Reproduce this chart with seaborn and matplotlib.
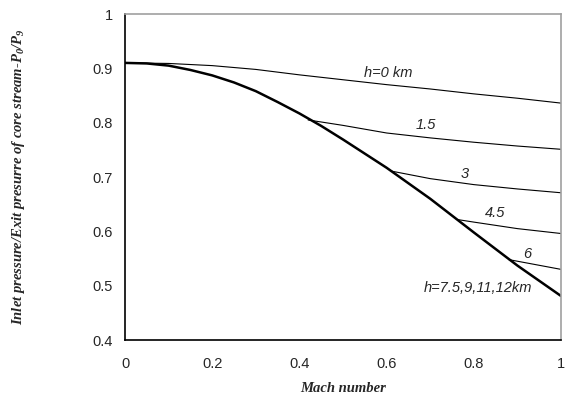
import matplotlib
matplotlib.use("Agg")
import matplotlib.pyplot as plt
import seaborn as sns
import pandas as pd

# Data
mach_thick = [0.0, 0.05, 0.1, 0.15, 0.2, 0.25, 0.3, 0.35, 0.4, 0.45, 0.5, 0.6, 0.7, 0.8, 0.9, 1.0]
p_thick = [0.910, 0.909, 0.905, 0.897, 0.887, 0.874, 0.858, 0.838, 0.817, 0.794, 0.769,
           0.717, 0.660, 0.598, 0.537, 0.481]

mach_h0 = [0.0, 0.1, 0.2, 0.3, 0.4, 0.5, 0.6, 0.7, 0.8, 0.9, 1.0]
p_h0 = [0.910, 0.909, 0.905, 0.898, 0.888, 0.879, 0.870, 0.862, 0.853, 0.845, 0.836]

mach_h15 = [0.42, 0.5, 0.6, 0.7, 0.8, 0.9, 1.0]
p_h15 = [0.805, 0.795, 0.781, 0.772, 0.764, 0.757, 0.751]

mach_h3 = [0.61, 0.7, 0.8, 0.9, 1.0]
p_h3 = [0.711, 0.697, 0.686, 0.678, 0.671]

mach_h45 = [0.76, 0.8, 0.9, 1.0]
p_h45 = [0.622, 0.617, 0.605, 0.596]

mach_h6 = [0.88, 0.9, 1.0]
p_h6 = [0.548, 0.545, 0.530]

labels = ["h=0 km", "1.5", "3", "4.5", "6", "h=7.5,9,11,12km"]
label_pos_x = [0.603, 0.69, 0.78, 0.849, 0.922, 0.81]
label_pos_y = [0.891, 0.796, 0.706, 0.634, 0.558, 0.496]

sns.set_style("white")
plt.rcParams['font.family'] = ['Liberation Sans', 'DejaVu Sans']
plt.rcParams['mathtext.fontset'] = 'custom'
plt.rcParams['mathtext.rm'] = 'Liberation Serif:italic:bold'
plt.rcParams['mathtext.it'] = 'Liberation Serif:italic:bold'
plt.rcParams['mathtext.bf'] = 'Liberation Serif:italic:bold'

fig = plt.figure(figsize=(5.69, 3.98), dpi=100)
ax = fig.add_axes([125/569, 58/398, 436/569, 326/398])

thin = [(mach_h0, p_h0), (mach_h15, p_h15), (mach_h3, p_h3), (mach_h45, p_h45), (mach_h6, p_h6)]
for mx, py in thin:
    df = pd.DataFrame({"Mach": mx, "P": py})
    sns.lineplot(data=df, x="Mach", y="P", ax=ax, color="black", linewidth=0.8, legend=False)

df_t = pd.DataFrame({"Mach": mach_thick, "P": p_thick})
sns.lineplot(data=df_t, x="Mach", y="P", ax=ax, color="black", linewidth=1.8, legend=False)

for t, x, y in zip(labels, label_pos_x, label_pos_y):
    ax.text(x, y, t, ha="center", va="center", fontsize=10.5, style="italic")

ax.set_xlim(0, 1)
ax.set_ylim(0.4, 1.0)
ax.set_xticks([0, 0.2, 0.4, 0.6, 0.8, 1])
ax.set_xticklabels(["0", "0.2", "0.4", "0.6", "0.8", "1"])
ax.set_yticks([0.4, 0.5, 0.6, 0.7, 0.8, 0.9, 1.0])
ax.set_yticklabels(["0.4", "0.5", "0.6", "0.7", "0.8", "0.9", "1"])
ax.tick_params(axis="both", direction="out", length=4, width=1, labelsize=10.5, color="black", pad=5)
ax.tick_params(axis="x", pad=8)

for s in ["left", "bottom"]:
    ax.spines[s].set_color("black")
    ax.spines[s].set_linewidth(1.2)
for s in ["top", "right"]:
    ax.spines[s].set_color("#a0a0a0")
    ax.spines[s].set_linewidth(1.2)

ax.set_xlabel("Mach number", family=["Liberation Serif", "DejaVu Serif"], style="italic",
              weight="bold", fontsize=10.5)
ax.set_ylabel("Inlet pressure/Exit presurre of core stream-P$_{0}$/P$_{9}$",
              family=["Liberation Serif", "DejaVu Serif"], style="italic", weight="bold", fontsize=10.5)
ax.xaxis.set_label_coords(0.5, -0.13)
ax.yaxis.set_label_coords(-0.225, 0.5)

fig.savefig("out.png", dpi=100)
